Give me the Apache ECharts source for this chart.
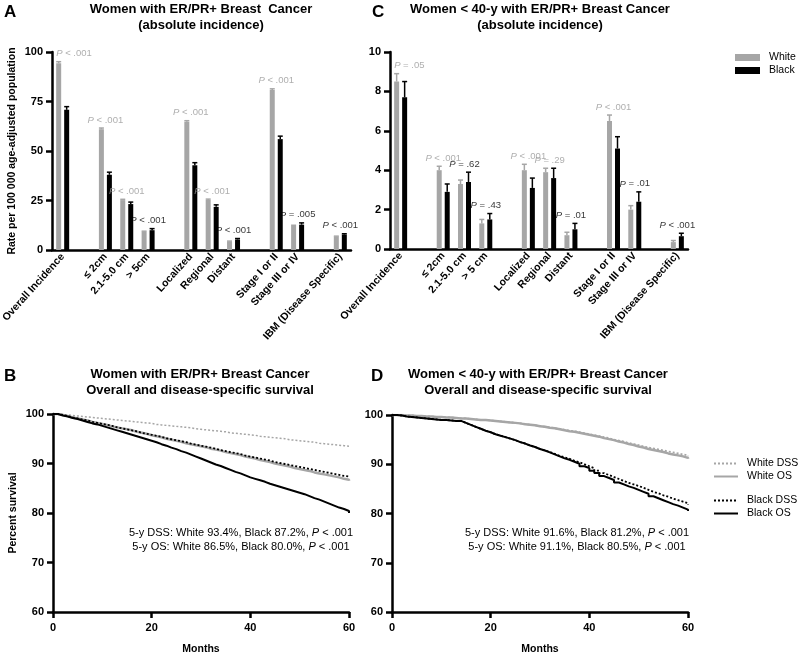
<!DOCTYPE html>
<html><head><meta charset="utf-8">
<script src="https://cdn.jsdelivr.net/npm/echarts@6/dist/echarts.min.js"></script>
<style>html,body{margin:0;padding:0;background:#fff}#c{width:800px;height:654px}</style>
</head><body><div id="c"></div>
<script>
// ---------- DATA ----------
const catsA = ['Overall Incidence', ' ', '≤ 2cm', '2.1-5.0 cm', '> 5cm', '  ', 'Localized', 'Regional', 'Distant', '   ', 'Stage I or II', 'Stage III or IV', '    ', 'IBM (Disease Specific)'];
const catsC = ['Overall Incidence', ' ', '≤ 2cm', '2.1-5.0 cm', '> 5 cm', '  ', 'Localized', 'Regional', 'Distant', '   ', 'Stage I or II', 'Stage III or IV', '    ', 'IBM (Disease Specific)'];

const whiteA    = [94.3, null, 61.0, 25.2, 9.2, null, 64.8, 25.3, 4.3, null, 80.8, 12.2, null, 6.8];
const whiteAErr = [0.8, null, 0.6, 0.4, 0.3, null, 0.5, 0.4, 0.2, null, 0.6, 0.3, null, 0.2];
const blackA    = [70.8, null, 38.0, 23.2, 10.0, null, 42.8, 21.8, 5.3, null, 56.0, 12.8, null, 7.8];
const blackAErr = [1.6, null, 1.3, 1.0, 0.8, null, 1.3, 1.0, 0.5, null, 1.5, 0.9, null, 0.4];
const pA = ['< .001', null, '< .001', '< .001', '< .001', null, '< .001', '< .001', '< .001', null, '< .001', '= .005', null, '< .001'];

const whiteC    = [8.5, null, 4.0, 3.3, 1.3, null, 4.0, 3.9, 0.7, null, 6.5, 2.0, null, 0.35];
const whiteCErr = [0.4, null, 0.2, 0.2, 0.2, null, 0.3, 0.2, 0.15, null, 0.3, 0.2, null, 0.08];
const blackC    = [7.7, null, 2.9, 3.4, 1.5, null, 3.1, 3.6, 1.0, null, 5.1, 2.4, null, 0.65];
const blackCErr = [0.8, null, 0.4, 0.5, 0.3, null, 0.5, 0.5, 0.3, null, 0.6, 0.5, null, 0.15];
const pC = ['= .05', null, '< .001', '= .62', '= .43', null, '< .001', '= .29', '= .01', null, '< .001', '= .01', null, '< .001'];

const months = Array.from({length: 61}, (_, i) => i);
const whiteDssB = [100,99.9,99.8,99.7,99.6,99.5,99.4,99.3,99.2,99.1,99.0, 98.9,98.8,98.7,98.6,98.5,98.4,98.3,98.2,98.1,97.9, 97.8,97.7,97.6,97.5,97.4,97.3,97.2,97.0,96.9,96.8, 96.7,96.6,96.5,96.4,96.2,96.1,96.0,95.9,95.8,95.7, 95.5,95.4,95.3,95.2,95.1,95.0,94.8,94.7,94.6,94.5, 94.4,94.3,94.1,94.0,93.9,93.8,93.7,93.6,93.5,93.4];
const whiteOsB  = [100,99.8,99.6,99.3,99.1,98.9,98.7,98.4,98.2,98.0,97.8, 97.5,97.3,97.1,96.9,96.7,96.4,96.2,96.0,95.7,95.5, 95.3,95.0,94.8,94.6,94.4,94.1,93.9,93.7,93.5,93.3, 93.0,92.8,92.6,92.3,92.1,91.9,91.7,91.4,91.2,91.0, 90.7,90.5,90.3,90.0,89.8,89.6,89.4,89.1,88.9,88.7, 88.5,88.2,88.0,87.8,87.6,87.4,87.2,86.9,86.7,86.5];
const blackDssB = [100,99.8,99.6,99.3,99.1,98.9,98.7,98.4,98.2,98.0,97.8, 97.6,97.3,97.1,96.9,96.7,96.5,96.2,96.0,95.8,95.6, 95.4,95.1,94.9,94.7,94.5,94.3,94.0,93.8,93.6,93.4, 93.2,93.0,92.7,92.5,92.3,92.1,91.9,91.6,91.4,91.2, 91.0,90.8,90.6,90.3,90.1,89.9,89.7,89.5,89.3,89.1, 88.9,88.7,88.5,88.3,88.1,87.9,87.7,87.5,87.4,87.2];
const blackOsB  = [100,99.7,99.5,99.2,99.0,98.7,98.4,98.1,97.9,97.6,97.3, 97.0,96.7,96.4,96.1,95.8,95.5,95.2,94.9,94.6,94.3, 93.9,93.6,93.2,92.9,92.5,92.2,91.8,91.4,91.0,90.6, 90.2,89.8,89.5,89.1,88.7,88.3,88.0,87.6,87.2,86.9, 86.6,86.3,85.9,85.6,85.3,85.0,84.7,84.4,84.1,83.8, 83.4,83.0,82.7,82.3,81.9,81.5,81.1,80.8,80.4,80.0];
const whiteDssD = [100,100,99.9,99.9,99.8,99.8,99.7,99.7,99.6,99.6,99.5, 99.5,99.4,99.3,99.3,99.2,99.1,99.0,99.0,98.9,98.8, 98.7,98.6,98.5,98.4,98.3,98.2,98.0,97.9,97.8,97.6, 97.5,97.3,97.2,97.0,96.8,96.7,96.5,96.3,96.1,95.9, 95.7,95.5,95.3,95.0,94.8,94.6,94.3,94.1,93.9,93.6, 93.4,93.2,93.0,92.8,92.6,92.4,92.2,92.0,91.8,91.6];
const whiteOsD  = [100,100,99.9,99.9,99.8,99.8,99.7,99.7,99.6,99.6,99.5, 99.5,99.4,99.3,99.3,99.2,99.1,99.0,99.0,98.9,98.8, 98.7,98.6,98.5,98.4,98.3,98.1,98.0,97.9,97.7,97.6, 97.4,97.3,97.1,96.9,96.7,96.6,96.4,96.2,96.0,95.8, 95.6,95.3,95.1,94.9,94.6,94.4,94.1,93.9,93.6,93.4, 93.1,92.9,92.7,92.5,92.2,92.0,91.8,91.6,91.3,91.1];
const blackDssD = [100,99.9,99.7,99.6,99.5,99.4,99.3,99.2,99.1,99.0,99.0, 98.9,98.8,98.8,98.4,98.0,97.6,97.2,96.8,96.5,96.1, 95.8,95.5,95.2,94.9,94.5,94.2,93.8,93.5,93.1,92.8, 92.5,92.1,91.7,91.4,91.1,90.7,90.4,90.0,89.6,89.2, 88.7,88.2,87.8,87.4,87.0,86.6,86.2,85.9,85.6,85.2, 84.8,84.4,84.1,83.7,83.4,83.0,82.7,82.4,82.1,81.8];
const blackOsD  = [100,99.9,99.7,99.6,99.5,99.4,99.3,99.2,99.1,99.0,99.0, 98.9,98.8,98.8,98.4,98.0,97.6,97.2,96.8,96.5,96.1, 95.8,95.5,95.2,94.9,94.5,94.2,93.8,93.5,93.1,92.8, 92.4,92.0,91.6,91.2,90.9,90.5,90.1,89.6,89.2,88.7, 88.2,87.6,87.2,86.8,86.3,85.9,85.5,85.2,84.8,84.4, 84.0,83.5,83.1,82.7,82.3,81.9,81.6,81.2,80.8,80.5];

const noteB = ['5-y DSS: White 93.4%, Black 87.2%, ', '5-y OS: White 86.5%, Black 80.0%, '];
const noteD = ['5-y DSS: White 91.6%, Black 81.2%, ', '5-y OS: White 91.1%, Black 80.5%, '];
const pNote = '< .001';

// ---------- STYLE ----------
const F = '"Liberation Sans", Arial, Helvetica, sans-serif';
const GRAY = '#a6a6a6';
const PGRAY = '#9a9a9a';
const AX = {color: '#000', width: 2.5};

function catX(gi, cats) {
  return {type: 'category', gridIndex: gi, data: cats, boundaryGap: true,
    axisLine: {lineStyle: AX}, axisTick: {show: false},
    axisLabel: {interval: 0, rotate: 48, margin: 5, color: '#000', fontWeight: 'bold', fontSize: 10.5, fontFamily: F}};
}
function valY(gi, min, max, interval, name, nameGap) {
  return {type: 'value', gridIndex: gi, min, max, interval,
    axisLine: {show: true, onZero: false, lineStyle: AX},
    axisTick: {show: true, length: 6, lineStyle: AX},
    splitLine: {show: false},
    axisLabel: {margin: 9, color: '#000', fontWeight: 'bold', fontSize: 11, fontFamily: F},
    name, nameLocation: 'middle', nameGap,
    nameTextStyle: {color: '#000', fontWeight: 'bold', fontSize: 10.5, fontFamily: F}};
}
function valX(gi) {
  return {type: 'value', gridIndex: gi, min: 0, max: 60, interval: 20,
    axisLine: {show: true, onZero: false, lineStyle: AX},
    axisTick: {show: true, length: 6, lineStyle: AX},
    splitLine: {show: false},
    axisLabel: {margin: 10, color: '#000', fontWeight: 'bold', fontSize: 11, fontFamily: F},
    name: 'Months', nameLocation: 'middle', nameGap: 32,
    nameTextStyle: {color: '#000', fontWeight: 'bold', fontSize: 10.5, fontFamily: F}};
}
function bars(ai, vals, name, color) {
  return {type: 'bar', name, xAxisIndex: ai, yAxisIndex: ai, data: vals, barWidth: 5, barGap: '60%',
    itemStyle: {color}, silent: true, z: 2};
}
function errs(ai, vals, errv, offset, color) {
  const d = [];
  vals.forEach((v, i) => { if (v != null) d.push([i, v, errv[i]]); });
  return {type: 'custom', xAxisIndex: ai, yAxisIndex: ai, data: d, silent: true, z: 3,
    encode: {x: 0, y: 1},
    renderItem: (params, api) => {
      const i = api.value(0), v = api.value(1), e = api.value(2);
      const p0 = api.coord([i, v]), p1 = api.coord([i, v + e]);
      const x = p0[0] + offset;
      const st = {stroke: color, lineWidth: 1.5};
      return {type: 'group', children: [
        {type: 'line', shape: {x1: x, y1: p0[1], x2: x, y2: p1[1]}, style: st},
        {type: 'line', shape: {x1: x - 2.5, y1: p1[1], x2: x + 2.5, y2: p1[1]}, style: st}
      ]};
    }};
}
function plabels(ai, w, we, b, be, p) {
  const d = [];
  p.forEach((t, i) => {
    if (!t) return;
    const top = Math.max(w[i] + we[i], b[i] + be[i]);
    const item = {name: t, value: [i, top], label: {color: w[i] > b[i] ? PGRAY : '#000'}};
    if (i === 0) { item.label.align = 'left'; item.label.offset = [-6.5, 0]; }
    d.push(item);
  });
  return {type: 'scatter', xAxisIndex: ai, yAxisIndex: ai, data: d, symbolSize: 0, silent: true, z: 4,
    label: {show: true, position: 'top', distance: 3, fontSize: 9.5, fontFamily: F,
      formatter: prm => '{i|P} ' + prm.name,
      rich: {i: {fontStyle: 'italic', fontSize: 9.5, fontFamily: F}}}};
}
function km(ai, vals, name, color, type, width, z) {
  return {type: 'line', name, xAxisIndex: ai, yAxisIndex: ai, step: 'end', symbol: 'none', z,
    data: months.map((m, i) => [m, vals[i]]),
    lineStyle: {color, width, type}, itemStyle: {color}, silent: true};
}
function txt(x, y, text, size, align) {
  return {type: 'text', x, y, style: {text, fill: '#000', fontSize: size, fontWeight: 'bold', fontFamily: F, textAlign: align || 'left', lineHeight: size + 3}};
}
function note(x, y, lines) {
  return {type: 'text', x, y, style: {
    text: lines.map(l => l + '{i|P} ' + pNote).join('\n'),
    fill: '#000', fontSize: 11, fontFamily: F, textAlign: 'center', lineHeight: 14,
    rich: {i: {fontStyle: 'italic', fontSize: 11, fontFamily: F, fill: '#000'}}}};
}
const kmLegend = (data, top) => ({data, orient: 'vertical', left: 713, top, padding: 0, itemWidth: 24, itemHeight: 10, itemGap: 2,
  selectedMode: false, itemStyle: {opacity: 0},
  textStyle: {color: '#000', fontSize: 10.5, fontFamily: F, padding: [0, 0, 0, 4]}});

const option = {
  animation: false,
  backgroundColor: '#fff',
  grid: [
    {left: 52, top: 52, width: 299, height: 198, outerBoundsMode: 'none'},
    {left: 390, top: 52, width: 298, height: 197, outerBoundsMode: 'none'},
    {left: 53, top: 414, width: 296, height: 198, outerBoundsMode: 'none'},
    {left: 392, top: 415, width: 296, height: 197, outerBoundsMode: 'none'}
  ],
  xAxis: [catX(0, catsA), catX(1, catsC), valX(2), valX(3)],
  yAxis: [
    valY(0, 0, 100, 25, 'Rate per 100 000 age-adjusted population', 34),
    valY(1, 0, 10, 2, '', 30),
    valY(2, 60, 100, 10, 'Percent survival', 34),
    valY(3, 60, 100, 10, '', 30)
  ],
  legend: [
    {data: ['White', 'Black'], orient: 'vertical', left: 735, top: 52, padding: 0, itemWidth: 25, itemHeight: 7, itemGap: 2,
      icon: 'rect', selectedMode: false, textStyle: {color: '#000', fontSize: 10.5, fontFamily: F, padding: [0, 0, 0, 4]}},
    kmLegend(['White DSS', 'White OS'], 458),
    kmLegend(['Black DSS', 'Black OS'], 495)
  ],
  graphic: [
    txt(4, 2, 'A', 17), txt(201, 1, 'Women with ER/PR+ Breast  Cancer\n(absolute incidence)', 13, 'center'),
    txt(372, 2, 'C', 17), txt(540, 1, 'Women < 40-y with ER/PR+ Breast Cancer\n(absolute incidence)', 13, 'center'),
    txt(4, 366, 'B', 17), txt(200, 366, 'Women with ER/PR+ Breast Cancer\nOverall and disease-specific survival', 13, 'center'),
    txt(371, 366, 'D', 17), txt(538, 366, 'Women < 40-y with ER/PR+ Breast Cancer\nOverall and disease-specific survival', 13, 'center'),
    note(241, 526, noteB), note(577, 526, noteD)
  ],
  series: [
    bars(0, whiteA, 'White', GRAY), bars(0, blackA, 'Black', '#000'),
    errs(0, whiteA, whiteAErr, -4, GRAY), errs(0, blackA, blackAErr, 4, '#000'),
    plabels(0, whiteA, whiteAErr, blackA, blackAErr, pA),
    bars(1, whiteC, 'White', GRAY), bars(1, blackC, 'Black', '#000'),
    errs(1, whiteC, whiteCErr, -4, GRAY), errs(1, blackC, blackCErr, 4, '#000'),
    plabels(1, whiteC, whiteCErr, blackC, blackCErr, pC),
    km(2, whiteDssB, 'White DSS', GRAY, [2, 2], 1.5, 2),
    km(2, whiteOsB, 'White OS', GRAY, 'solid', 2.5, 3),
    km(2, blackOsB, 'Black OS', '#000', 'solid', 2, 4),
    km(2, blackDssB, 'Black DSS', '#000', [2, 2], 1.8, 5),
    km(3, whiteDssD, 'White DSS', GRAY, [2, 2], 1.8, 2),
    km(3, whiteOsD, 'White OS', GRAY, 'solid', 2.5, 3),
    km(3, blackOsD, 'Black OS', '#000', 'solid', 2, 4),
    km(3, blackDssD, 'Black DSS', '#000', [2, 2], 1.8, 5)
  ]
};
const chart = echarts.init(document.getElementById('c'));
chart.setOption(option);
</script></body></html>
